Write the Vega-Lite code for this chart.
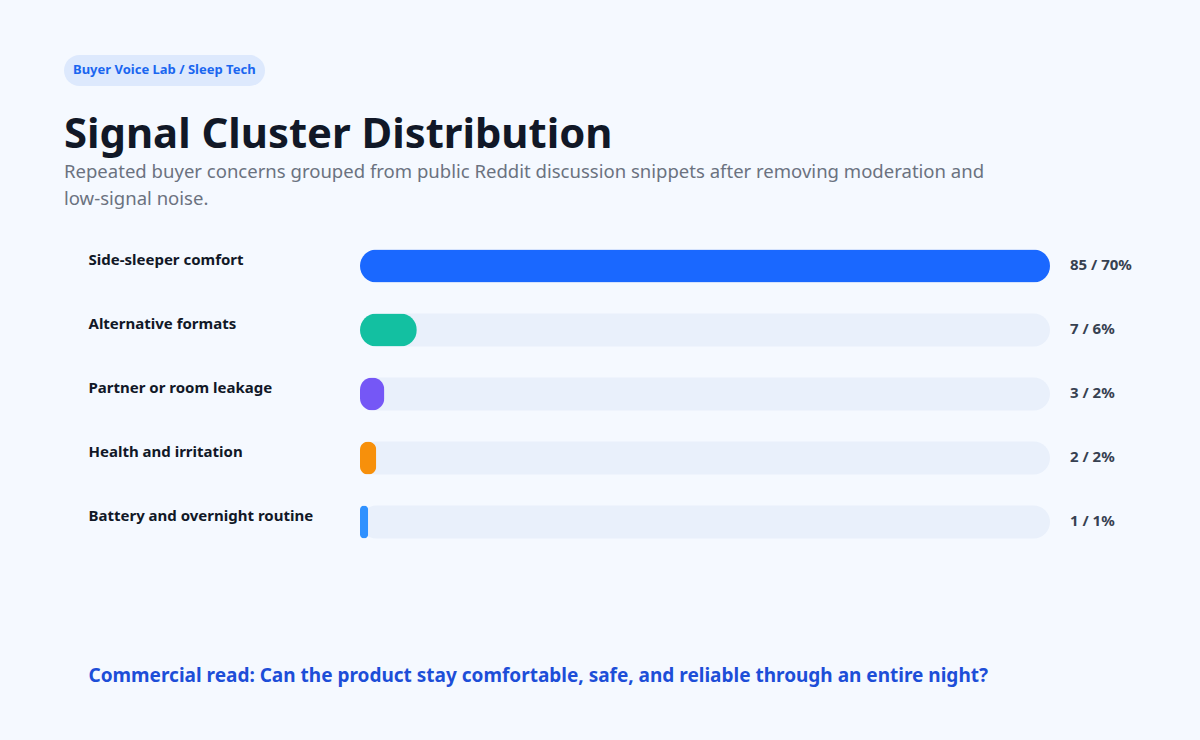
{
  "$schema": "https://vega.github.io/schema/vega-lite/v6.json",
  "autosize": {"type": "none"},
  "width": 690,
  "height": 320,
  "padding": {"left": 360, "top": 234, "right": 150, "bottom": 186},
  "background": "#f5f9ff",
  "config": {
    "font": "Noto Sans",
    "view": {"stroke": null}
  },
  "title": {
    "text": "Signal Cluster Distribution",
    "subtitle": ["Repeated buyer concerns grouped from public Reddit discussion snippets after removing moderation and", "low-signal noise."],
    "anchor": "start",
    "frame": "group",
    "dx": -296,
    "offset": -154,
    "font": "Noto Sans",
    "fontSize": 41.8,
    "fontWeight": "bold",
    "color": "#111827",
    "subtitleFont": "Noto Sans",
    "subtitleFontSize": 18.55,
    "subtitleColor": "#6b7280",
    "subtitleLineHeight": 27,
    "subtitlePadding": 7
  },
  "data": {
    "values": [
      {"cluster": "Side-sleeper comfort", "count": 85, "label": "85 / 70%"},
      {"cluster": "Alternative formats", "count": 7, "label": "7 / 6%"},
      {"cluster": "Partner or room leakage", "count": 3, "label": "3 / 2%"},
      {"cluster": "Health and irritation", "count": 2, "label": "2 / 2%"},
      {"cluster": "Battery and overnight routine", "count": 1, "label": "1 / 1%"}
    ]
  },
  "encoding": {
    "y": {
      "field": "cluster",
      "type": "nominal",
      "sort": null,
      "scale": {"paddingInner": 0.4844, "paddingOuter": 0.2422},
      "axis": {
        "title": null,
        "domain": false,
        "ticks": false,
        "grid": false,
        "labelPadding": 272,
        "labelAlign": "left",
        "labelBaseline": "alphabetic",
        "labelOffset": -1,
        "labelFont": "Noto Sans",
        "labelFontSize": 15,
        "labelFontWeight": "bold",
        "labelColor": "#111827",
        "labelLimit": 300
      }
    }
  },
  "layer": [
    {
      "mark": {"type": "bar", "color": "#e9f0fb", "cornerRadius": 16.5},
      "encoding": {
        "x": {
          "datum": 85,
          "type": "quantitative",
          "scale": {"domain": [0, 85], "nice": false, "zero": true},
          "axis": {
            "title": "Commercial read: Can the product stay comfortable, safe, and reliable through an entire night?",
            "labels": false,
            "ticks": false,
            "domain": false,
            "grid": false,
            "titleAnchor": "start",
            "titleAlign": "left",
            "titleBaseline": "alphabetic",
            "titleX": -272,
            "titleY": 127,
            "titleFont": "Noto Sans",
            "titleFontSize": 19,
            "titleFontWeight": "bold",
            "titleColor": "#1d4ed8",
            "titleLimit": 1000
          }
        }
      }
    },
    {
      "mark": {"type": "bar", "cornerRadius": 16.5},
      "encoding": {
        "x": {"field": "count", "type": "quantitative"},
        "color": {
          "field": "cluster",
          "type": "nominal",
          "sort": null,
          "scale": {
            "domain": ["Side-sleeper comfort", "Alternative formats", "Partner or room leakage", "Health and irritation", "Battery and overnight routine"],
            "range": ["#1a68ff", "#13c0a1", "#7557f6", "#f7900b", "#2f91ff"]
          },
          "legend": {
            "title": "Buyer Voice Lab / Sleep Tech",
            "values": [],
            "orient": "none",
            "legendX": -296,
            "legendY": -179,
            "padding": 9,
            "titlePadding": 0,
            "titleLimit": 400,
            "fillColor": "#dde9fd",
            "cornerRadius": 15.5,
            "titleFont": "Noto Sans",
            "titleFontSize": 13,
            "titleFontWeight": "bold",
            "titleColor": "#1a66f0",
            "titleBaseline": "top"
          }
        }
      }
    },
    {
      "mark": {"type": "text", "align": "left", "baseline": "middle", "dx": 20, "dy": -1, "font": "Noto Sans", "fontSize": 15, "fontWeight": "bold", "color": "#374151"},
      "encoding": {
        "x": {"datum": 85, "type": "quantitative"},
        "text": {"field": "label"}
      }
    }
  ]
}
